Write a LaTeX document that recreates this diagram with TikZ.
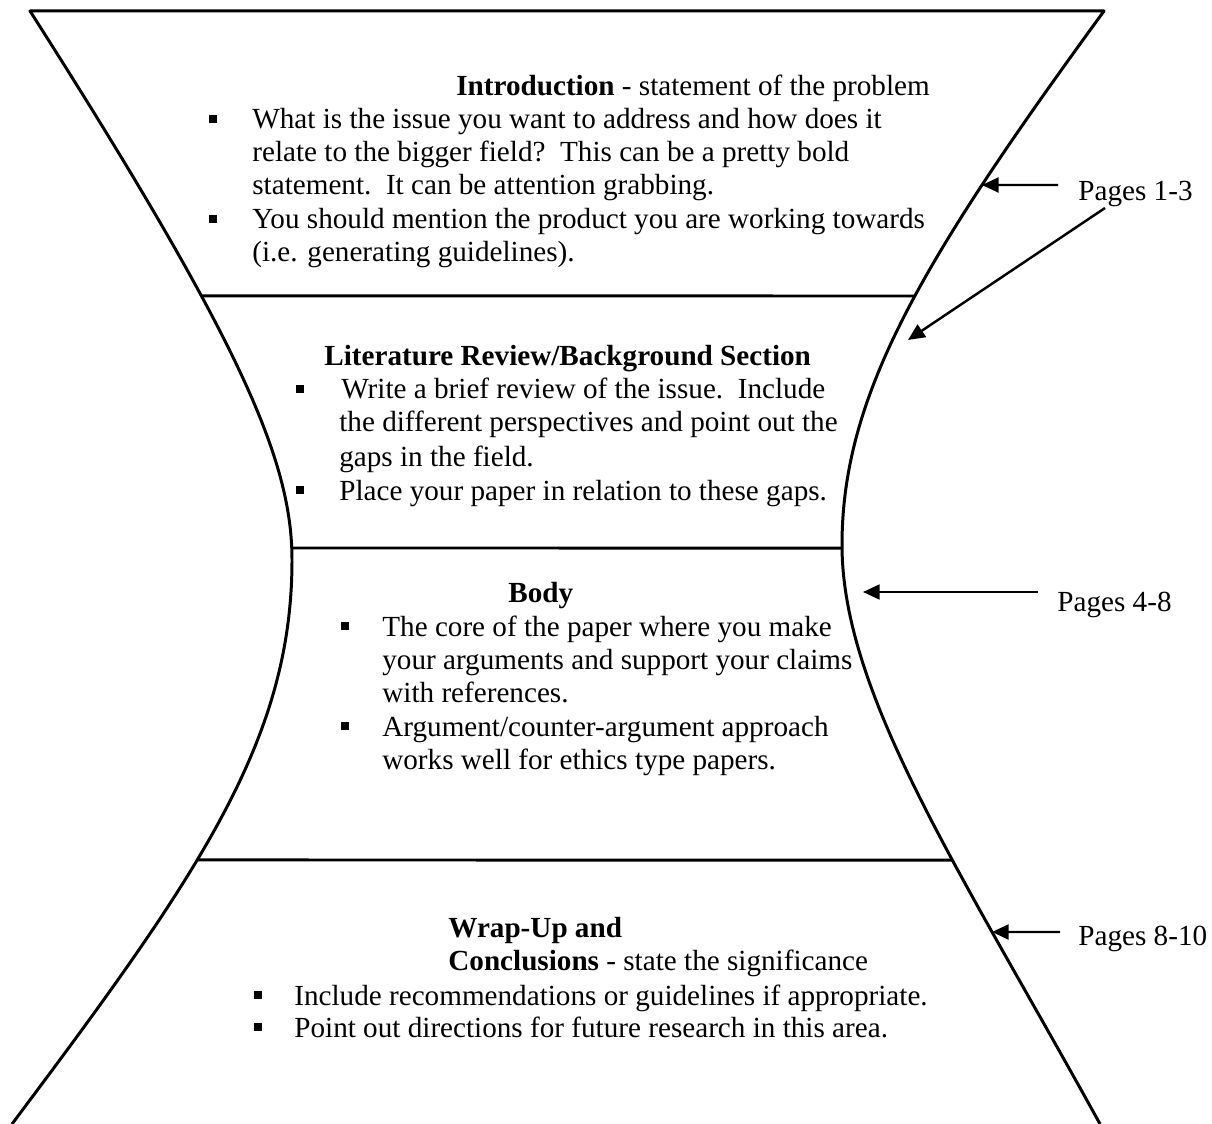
\documentclass[tikz,border=0pt]{standalone}
\usepackage{fontspec}
\setmainfont{Liberation Serif}
\usetikzlibrary{arrows.meta,intersections}
\begin{document}
\begin{tikzpicture}[x=0.02cm,y=-0.02cm,
  outline/.style={line width=1.7pt, line join=round},
  divider/.style={line width=1.7pt},
  arr/.style={line width=1.4pt, -{Triangle[length=9.5pt,width=8.5pt]}},
  txt/.style={anchor=base west, inner sep=0pt, font=\fontsize{16.6}{19.8}\selectfont},
  bul/.style={fill=black, inner sep=0pt, minimum size=5pt},
]
\useasboundingbox (0,0) rectangle (1212,1124);
% outline of the hourglass
\draw[outline] (12,1124) .. controls (199.5,874) and (292,740) .. (292,560)
  .. controls (292,460) and (240.5,341) .. (30,11) -- (1104,11)
  .. controls (921.5,261) and (842,395) .. (842,545)
  .. controls (842,695) and (962.5,874) .. (1100,1124);
\path[name path=L] (12,1124) .. controls (199.5,874) and (292,740) .. (292,560)
  .. controls (292,460) and (240.5,341) .. (30,11);
\path[name path=R] (1104,11) .. controls (921.5,261) and (842,395) .. (842,545)
  .. controls (842,695) and (962.5,874) .. (1100,1124);
% dividers
\path[name path=h1] (0,296) -- (1212,296);
\path[name path=h2] (0,548) -- (1212,548);
\path[name path=h3] (0,860) -- (1212,860);
\path[name path=ha] (0,185) -- (1212,185);
\path[name path=hb] (0,932) -- (1212,932);
\path[name intersections={of=L and h1, by=l1}];
\path[name intersections={of=R and h1, by=r1}];
\path[name intersections={of=L and h2, by=l2}];
\path[name intersections={of=R and h2, by=r2}];
\path[name intersections={of=L and h3, by=l3}];
\path[name intersections={of=R and h3, by=r3}];
\path[name intersections={of=R and ha, by=t1}];
\path[name intersections={of=R and hb, by=t4}];
\draw[divider] (l1) -- (r1);
\draw[divider] (l2) -- (r2);
\draw[divider] (l3) -- (r3);

% Introduction
\node[txt] (ih) at (456,96) {\textbf{Introduction} - statement of the problem};
\node[bul] (ib1) at (213,119) {};
\node[txt] (i1) at (252,129) {What is the issue you want to address and how does it};
\node[txt] (i2) at (252,162) {relate to the bigger field?\ \ This can be a pretty bold};
\node[txt] (i3) at (252,195) {statement.\ \ It can be attention grabbing.};
\node[bul] (ib2) at (213,219) {};
\node[txt] (i4) at (252,229) {You should mention the product you are working towards};
\node[txt] (i5) at (252,262) {(i.e. generating guidelines).};

% Literature review
\node[txt] (lh) at (324,366) {\textbf{Literature Review/Background Section}};
\node[bul] (lb1) at (300,389) {};
\node[txt] (l1t) at (341,399) {Write a brief review of the issue.\ \ Include};
\node[txt] (l2t) at (339,432) {the different perspectives and point out the};
\node[txt] (l3t) at (339,466) {gaps in the field.};
\node[bul] (lb2) at (300,490) {};
\node[txt] (l4t) at (339,500) {Place your paper in relation to these gaps.};

% Body
\node[txt] (bh) at (508,602) {\textbf{Body}};
\node[bul] (bb1) at (345,626) {};
\node[txt] (b1) at (382,636) {The core of the paper where you make};
\node[txt] (b2) at (382,669) {your arguments and support your claims};
\node[txt] (b3) at (382,702) {with references.};
\node[bul] (bb2) at (345,726) {};
\node[txt] (b4) at (382,736) {Argument/counter-argument approach};
\node[txt] (b5) at (382,769) {works well for ethics type papers.};

% Wrap-up
\node[txt] (wh1) at (448,937) {\textbf{Wrap-Up and}};
\node[txt] (wh2) at (448,970) {\textbf{Conclusions} - state the significance};
\node[bul] (wb1) at (258,995) {};
\node[txt] (w1) at (294,1005) {Include recommendations or guidelines if appropriate.};
\node[bul] (wb2) at (258,1027) {};
\node[txt] (w2) at (294,1037) {Point out directions for future research in this area.};

% Page labels
\node[txt] (p13) at (1078,201) {Pages 1-3};
\node[txt] (p48) at (1057,611) {Pages 4-8};
\node[txt] (p810) at (1078,945) {Pages 8-10};

% arrows
\coordinate (s1) at (1058,185);
\coordinate (s2) at (1105,208);
\coordinate (t2) at (908,340);
\coordinate (s3) at (1038,592);
\coordinate (t3) at (863,592);
\coordinate (s4) at (1060,932);
\draw[arr] (s1) -- (t1);
\draw[arr] (s2) -- (t2);
\draw[arr] (s3) -- (t3);
\draw[arr] (s4) -- (t4);
\end{tikzpicture}
\end{document}
